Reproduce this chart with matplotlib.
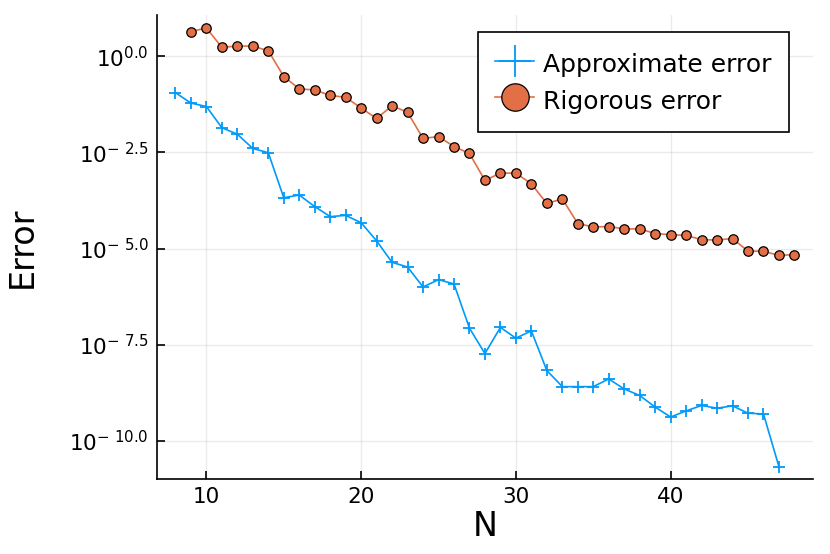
import matplotlib
matplotlib.use("Agg")
import matplotlib.pyplot as plt
import numpy as np

plt.rcParams['font.family'] = ['DejaVu Sans']
plt.rcParams['mathtext.fontset'] = 'dejavusans'

# log10 of errors
approx_N = list(range(8, 48))
approx_log10 = [-0.95, -1.22, -1.31, -1.86, -2.03, -2.40, -2.51, -3.68, -3.61, -3.91,
                -4.17, -4.14, -4.33, -4.80, -5.36, -5.48, -6.00, -5.81, -5.92, -7.07,
                -7.73, -7.05, -7.33, -7.14, -8.17, -8.59, -8.59, -8.59, -8.39, -8.65,
                -8.82, -9.12, -9.38, -9.22, -9.08, -9.15, -9.09, -9.28, -9.30, -10.67]
rig_N = list(range(9, 49))
rig_log10 = [0.64, 0.73, 0.23, 0.26, 0.26, 0.14, -0.53, -0.85, -0.88, -1.02,
             -1.07, -1.35, -1.62, -1.29, -1.46, -2.14, -2.09, -2.35, -2.53, -3.23,
             -3.04, -3.04, -3.32, -3.83, -3.71, -4.35, -4.44, -4.43, -4.49, -4.49,
             -4.61, -4.64, -4.66, -4.77, -4.78, -4.74, -5.07, -5.07, -5.18, -5.16]

ytick_exp = [0.0, -2.5, -5.0, -7.5, -10.0]
ytick_labels = [r"$10^{0.0}$", r"$10^{-\ 2.5}$", r"$10^{-\ 5.0}$", r"$10^{-\ 7.5}$", r"$10^{-\ 10.0}$"]
xticks = [10, 20, 30, 40]

blue = "#009AFA"
orange = "#E26F46"

fig = plt.figure(figsize=(8.30, 5.54), dpi=100)
ax = fig.add_axes([0.189, 0.1354, 0.7905, 0.8376])

ax.plot(approx_N, 10.0 ** np.array(approx_log10), color=blue, lw=1.2,
        marker='+', markersize=8, markeredgewidth=1.3, label="Approximate error")
ax.plot(rig_N, 10.0 ** np.array(rig_log10), color=orange, lw=1.2,
        marker='o', markersize=6.8, markerfacecolor=orange, markeredgecolor='black',
        markeredgewidth=0.9, label="Rigorous error")

ax.set_yscale('log')
ax.set_xlim(6.8, 49.2)
ax.set_ylim(10 ** -10.99, 10 ** 1.07)
ax.set_yticks([10 ** e for e in ytick_exp])
ax.set_yticklabels(ytick_labels)
ax.yaxis.set_minor_locator(matplotlib.ticker.NullLocator())
ax.set_xticks(xticks)
ax.set_xticklabels([str(t) for t in xticks])

for s in ['top', 'right']:
    ax.spines[s].set_visible(False)
for s in ['left', 'bottom']:
    ax.spines[s].set_linewidth(1.2)
ax.tick_params(direction='in', length=6, width=1.2, labelsize=15.5, pad=6)
ax.grid(True, color='black', alpha=0.08, lw=1.0)

ax.set_xlabel("N", fontsize=24, labelpad=2)
ax.set_ylabel("Error", fontsize=24)
ax.yaxis.set_label_coords(-0.180, 0.5)

leg = ax.legend(loc='upper right', bbox_to_anchor=(0.963, 0.963), borderaxespad=0,
                fontsize=18, frameon=True, fancybox=False, edgecolor='black', framealpha=1,
                handlelength=1.55, handleheight=1.4, borderpad=0.7, labelspacing=0.3,
                handletextpad=0.35, markerscale=2.9)
leg.get_frame().set_linewidth(1.2)

fig.savefig("out.png", dpi=100)
